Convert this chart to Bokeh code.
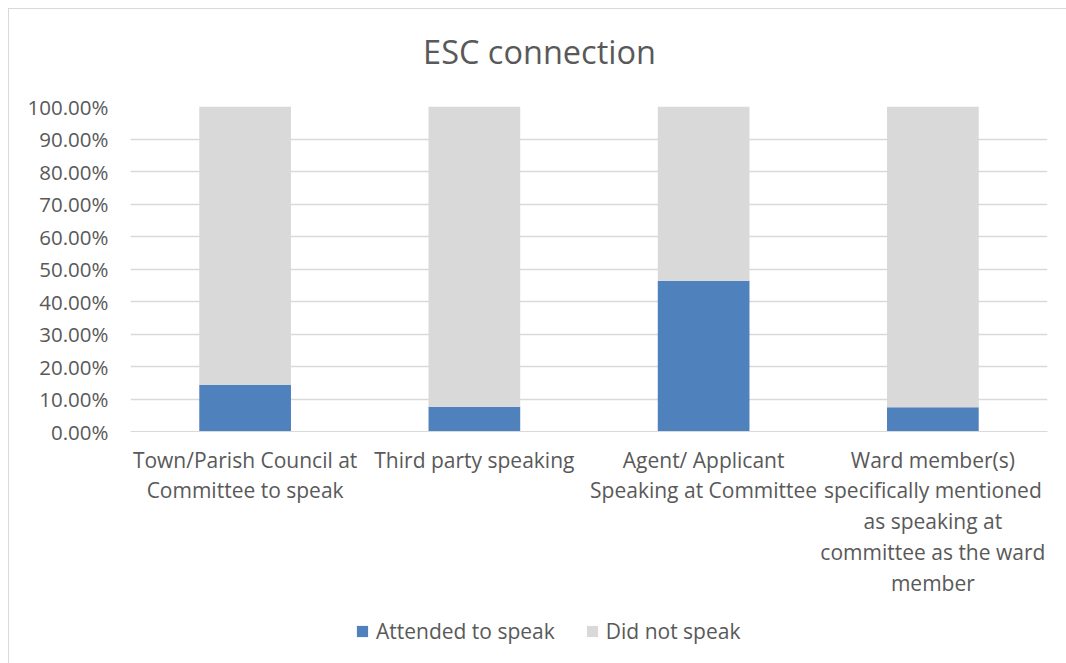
from bokeh.plotting import figure
from bokeh.layouts import column
from bokeh.models import (FactorRange, Range1d, NumeralTickFormatter, Legend, LegendItem,
                          Label, SingleIntervalTicker)
from bokeh.embed import file_html
from bokeh.resources import INLINE

categories = [
    "Town/Parish Council at\nCommittee to speak",
    "Third party speaking",
    "Agent/ Applicant\nSpeaking at Committee",
    "Ward member(s)\nspecifically mentioned\nas speaking at\ncommittee as the ward\nmember",
]
attended = [0.143, 0.076, 0.464, 0.075]
did_not = [0.857, 0.924, 0.536, 0.925]
series = ["Attended to speak", "Did not speak"]
colors = ["#4f81bd", "#d9d9d9"]

FONT = "Open Sans"
TXT = "#595959"
W = 1057
data = {"cat": categories, series[0]: attended, series[1]: did_not}

# --- title strip ---
p0 = figure(width=W, height=77, x_range=Range1d(0, 1), y_range=Range1d(0, 1),
            output_backend="svg", toolbar_location=None, min_border=0,
            x_axis_type=None, y_axis_type=None)
p0.outline_line_color = None
p0.grid.grid_line_color = None
p0.add_layout(Label(x=409, y=35, x_units="screen", y_units="screen",
                    text="ESC connection", text_font=FONT, text_font_size="32.5px",
                    text_color=TXT, text_align="center", text_baseline="middle"))

# --- main chart ---
p = figure(
    x_range=FactorRange(*categories, range_padding=0),
    y_range=Range1d(0, 1),
    width=W, height=517,
    output_backend="svg", toolbar_location=None,
    min_border_left=121, min_border_right=19,
    min_border_top=20, min_border_bottom=172,
)
p.outline_line_color = None
rs = p.vbar_stack(series, x="cat", width=0.4, color=colors, source=data, line_color=None)

p.yaxis.ticker = SingleIntervalTicker(interval=0.1)
p.yaxis.formatter = NumeralTickFormatter(format="0.00%")
for ax in (p.xaxis, p.yaxis):
    ax.major_tick_in = 0
    ax.major_tick_out = 0
    ax.minor_tick_in = 0
    ax.minor_tick_out = 0
    ax.major_label_text_font = FONT
    ax.major_label_text_color = TXT
p.yaxis.major_label_text_font_size = "20.5px"
p.xaxis.major_label_text_font_size = "21px"
p.yaxis.axis_line_color = None
p.yaxis.major_label_standoff = 22
p.xaxis.axis_line_color = "#d9d9d9"
p.xaxis.major_label_standoff = 14
p.xaxis.major_label_text_line_height = 1.1
p.xaxis.major_label_orientation = "horizontal"
p.xgrid.grid_line_color = None
p.ygrid.grid_line_color = "#d9d9d9"
p.ygrid.grid_line_width = 1.5

# --- legend strip ---
p2 = figure(width=W, height=60, x_range=FactorRange(*categories), y_range=Range1d(2, 3),
            output_backend="svg", toolbar_location=None, min_border=0,
            x_axis_type=None, y_axis_type=None)
p2.outline_line_color = None
p2.grid.grid_line_color = None
lr = p2.vbar_stack(series, x="cat", width=0.4, color=colors, source=data, line_color=None)
legend = Legend(
    items=[LegendItem(label=series[i], renderers=[lr[i]]) for i in range(2)],
    orientation="horizontal", location=(225, 18),
    label_text_font=FONT, label_text_font_size="21px", label_text_color=TXT,
    glyph_width=14, glyph_height=14, label_standoff=7, spacing=30,
    padding=0, margin=0, border_line_color=None, background_fill_alpha=0,
)
p2.add_layout(legend, "center")

layout = column(p0, p, p2, spacing=0)
layout.styles = {"margin-left": "8px", "margin-top": "8px",
                 "border-left": "1px solid #d9d9d9", "border-top": "1px solid #d9d9d9"}

open("out.html", "w").write(file_html(layout, INLINE))
